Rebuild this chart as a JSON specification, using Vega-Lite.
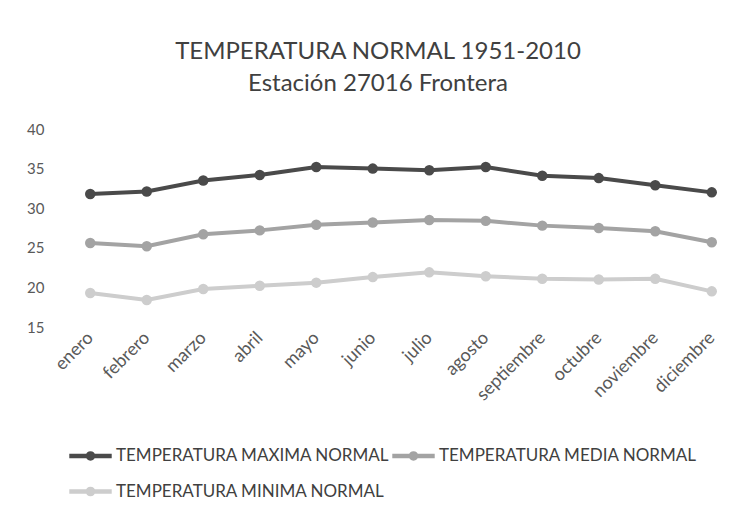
{
  "$schema": "https://vega.github.io/schema/vega-lite/v6.json",
  "autosize": "none",
  "width": 678,
  "height": 198,
  "padding": {"left": 62, "top": 129, "right": 13, "bottom": 185},
  "background": "white",
  "title": {
    "text": ["TEMPERATURA NORMAL 1951-2010", "Estación 27016 Frontera"],
    "anchor": "middle",
    "frame": "group",
    "dx": -23,
    "offset": 26,
    "font": "Lato",
    "fontSize": 24,
    "fontWeight": "normal",
    "color": "#404040",
    "lineHeight": 32
  },
  "data": {
    "values": [
      {"mes": "enero", "serie": "TEMPERATURA MAXIMA NORMAL", "valor": 31.8},
      {"mes": "febrero", "serie": "TEMPERATURA MAXIMA NORMAL", "valor": 32.1},
      {"mes": "marzo", "serie": "TEMPERATURA MAXIMA NORMAL", "valor": 33.5},
      {"mes": "abril", "serie": "TEMPERATURA MAXIMA NORMAL", "valor": 34.2},
      {"mes": "mayo", "serie": "TEMPERATURA MAXIMA NORMAL", "valor": 35.2},
      {"mes": "junio", "serie": "TEMPERATURA MAXIMA NORMAL", "valor": 35.0},
      {"mes": "julio", "serie": "TEMPERATURA MAXIMA NORMAL", "valor": 34.8},
      {"mes": "agosto", "serie": "TEMPERATURA MAXIMA NORMAL", "valor": 35.2},
      {"mes": "septiembre", "serie": "TEMPERATURA MAXIMA NORMAL", "valor": 34.1},
      {"mes": "octubre", "serie": "TEMPERATURA MAXIMA NORMAL", "valor": 33.8},
      {"mes": "noviembre", "serie": "TEMPERATURA MAXIMA NORMAL", "valor": 32.9},
      {"mes": "diciembre", "serie": "TEMPERATURA MAXIMA NORMAL", "valor": 32.0},
      {"mes": "enero", "serie": "TEMPERATURA MEDIA NORMAL", "valor": 25.6},
      {"mes": "febrero", "serie": "TEMPERATURA MEDIA NORMAL", "valor": 25.2},
      {"mes": "marzo", "serie": "TEMPERATURA MEDIA NORMAL", "valor": 26.7},
      {"mes": "abril", "serie": "TEMPERATURA MEDIA NORMAL", "valor": 27.2},
      {"mes": "mayo", "serie": "TEMPERATURA MEDIA NORMAL", "valor": 27.9},
      {"mes": "junio", "serie": "TEMPERATURA MEDIA NORMAL", "valor": 28.2},
      {"mes": "julio", "serie": "TEMPERATURA MEDIA NORMAL", "valor": 28.5},
      {"mes": "agosto", "serie": "TEMPERATURA MEDIA NORMAL", "valor": 28.4},
      {"mes": "septiembre", "serie": "TEMPERATURA MEDIA NORMAL", "valor": 27.8},
      {"mes": "octubre", "serie": "TEMPERATURA MEDIA NORMAL", "valor": 27.5},
      {"mes": "noviembre", "serie": "TEMPERATURA MEDIA NORMAL", "valor": 27.1},
      {"mes": "diciembre", "serie": "TEMPERATURA MEDIA NORMAL", "valor": 25.7},
      {"mes": "enero", "serie": "TEMPERATURA MINIMA NORMAL", "valor": 19.3},
      {"mes": "febrero", "serie": "TEMPERATURA MINIMA NORMAL", "valor": 18.4},
      {"mes": "marzo", "serie": "TEMPERATURA MINIMA NORMAL", "valor": 19.8},
      {"mes": "abril", "serie": "TEMPERATURA MINIMA NORMAL", "valor": 20.2},
      {"mes": "mayo", "serie": "TEMPERATURA MINIMA NORMAL", "valor": 20.6},
      {"mes": "junio", "serie": "TEMPERATURA MINIMA NORMAL", "valor": 21.3},
      {"mes": "julio", "serie": "TEMPERATURA MINIMA NORMAL", "valor": 21.9},
      {"mes": "agosto", "serie": "TEMPERATURA MINIMA NORMAL", "valor": 21.4},
      {"mes": "septiembre", "serie": "TEMPERATURA MINIMA NORMAL", "valor": 21.1},
      {"mes": "octubre", "serie": "TEMPERATURA MINIMA NORMAL", "valor": 21.0},
      {"mes": "noviembre", "serie": "TEMPERATURA MINIMA NORMAL", "valor": 21.1},
      {"mes": "diciembre", "serie": "TEMPERATURA MINIMA NORMAL", "valor": 19.5}
    ]
  },
  "mark": {"type": "line", "strokeWidth": 4, "point": {"size": 110, "filled": true, "opacity": 1}},
  "encoding": {
    "x": {
      "field": "mes",
      "type": "ordinal",
      "sort": ["enero", "febrero", "marzo", "abril", "mayo", "junio", "julio", "agosto", "septiembre", "octubre", "noviembre", "diciembre"],
      "scale": {"type": "point", "padding": 0.5},
      "axis": {
        "title": null,
        "domain": false,
        "ticks": false,
        "labelAngle": -45,
        "labelAlign": "right",
        "labelBaseline": "middle",
        "labelPadding": 8,
        "labelFont": "Lato",
        "labelFontSize": 18,
        "labelColor": "#595959"
      }
    },
    "y": {
      "field": "valor",
      "type": "quantitative",
      "scale": {"domain": [15, 40], "zero": false, "nice": false},
      "axis": {
        "title": null,
        "values": [15, 20, 25, 30, 35, 40],
        "grid": false,
        "domain": false,
        "ticks": false,
        "labelPadding": 18,
        "labelFont": "Lato",
        "labelFontSize": 15,
        "labelColor": "#595959"
      }
    },
    "color": {
      "field": "serie",
      "type": "nominal",
      "scale": {
        "domain": ["TEMPERATURA MAXIMA NORMAL", "TEMPERATURA MEDIA NORMAL", "TEMPERATURA MINIMA NORMAL"],
        "range": ["#4a4a4a", "#a3a3a3", "#cdcdcd"]
      },
      "legend": {
        "title": null,
        "orient": "none",
        "legendX": 5,
        "legendY": 303,
        "direction": "horizontal",
        "columns": 2,
        "columnPadding": -8,
        "rowPadding": -7,
        "symbolType": "M-1,0H1M-0.12,0A0.12,0.12 0 1,1 0.12,0A0.12,0.12 0 1,1 -0.12,0",
        "symbolSize": 1800,
        "symbolStrokeWidth": 4.5,
        "symbolOffset": 0,
        "labelOffset": 2,
        "labelFont": "Lato",
        "labelFontSize": 17,
        "labelColor": "#404040",
        "labelLimit": 400
      }
    }
  },
  "config": {"view": {"stroke": null}}
}
